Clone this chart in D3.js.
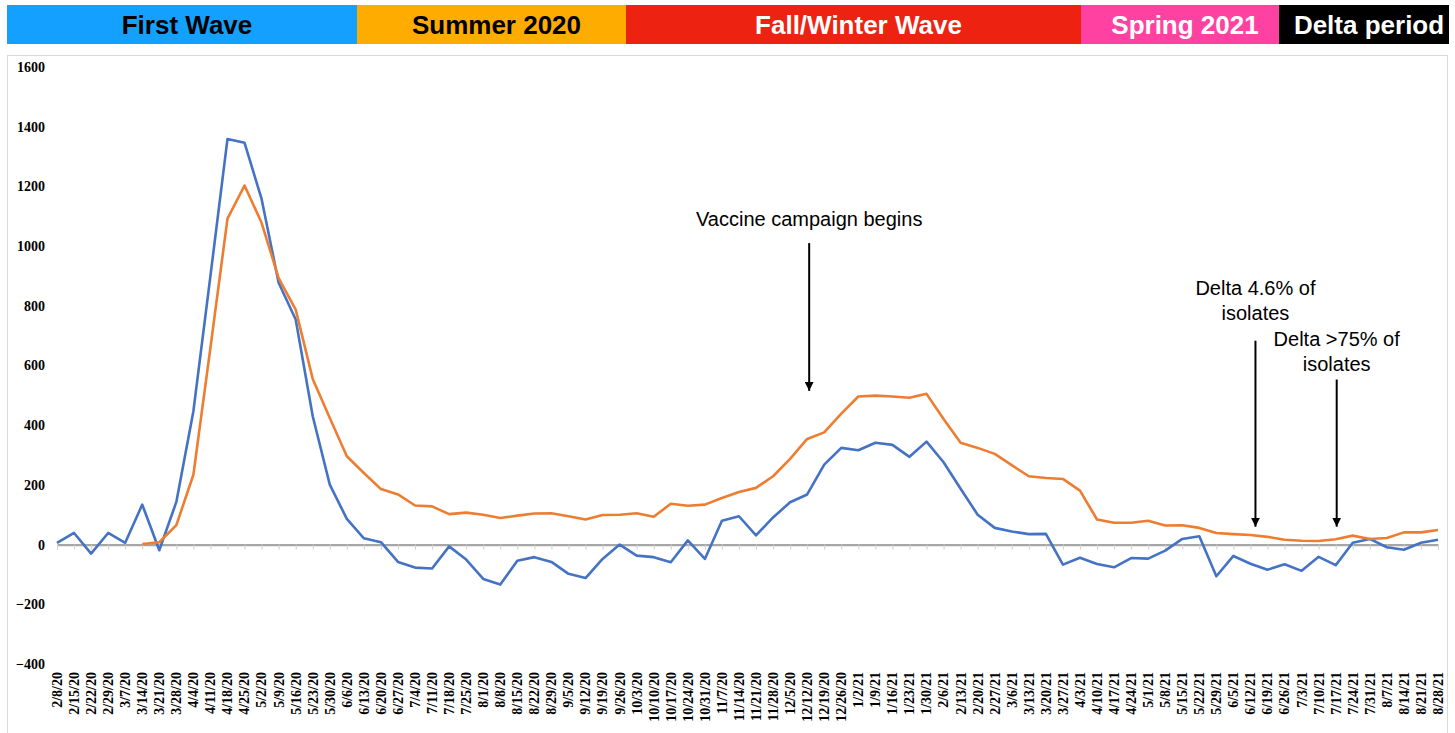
<!DOCTYPE html>
<html>
<head>
<meta charset="utf-8">
<script src="https://cdn.jsdelivr.net/npm/d3@7"></script>
<style>
  body { margin: 0; background: #fff; }
  svg { display: block; }
</style>
</head>
<body>
<svg id="chart" width="1455" height="733"></svg>
<script>
// weekly categories
const weeks = [
  '2/8/20','2/15/20','2/22/20','2/29/20','3/7/20','3/14/20','3/21/20','3/28/20','4/4/20','4/11/20',
  '4/18/20','4/25/20','5/2/20','5/9/20','5/16/20','5/23/20','5/30/20','6/6/20','6/13/20','6/20/20',
  '6/27/20','7/4/20','7/11/20','7/18/20','7/25/20','8/1/20','8/8/20','8/15/20','8/22/20','8/29/20',
  '9/5/20','9/12/20','9/19/20','9/26/20','10/3/20','10/10/20','10/17/20','10/24/20','10/31/20','11/7/20',
  '11/14/20','11/21/20','11/28/20','12/5/20','12/12/20','12/19/20','12/26/20','1/2/21','1/9/21','1/16/21',
  '1/23/21','1/30/21','2/6/21','2/13/21','2/20/21','2/27/21','3/6/21','3/13/21','3/20/21','3/27/21',
  '4/3/21','4/10/21','4/17/21','4/24/21','5/1/21','5/8/21','5/15/21','5/22/21','5/29/21','6/5/21',
  '6/12/21','6/19/21','6/26/21','7/3/21','7/10/21','7/17/21','7/24/21','7/31/21','8/7/21','8/14/21',
  '8/21/21','8/28/21'
]

const blueValues = [
  6, 39, -30, 39, 6, 134, -19, 143, 447, 900,
  1359, 1346, 1158, 877, 754, 430, 201, 86, 21, 8,
  -58, -77, -80, -6, -50, -115, -134, -54, -42, -58,
  -98, -112, -48, 0, -37, -42, -59, 14, -48, 80,
  95, 31, 91, 142, 168, 268, 324, 316, 341, 334,
  294, 345, 276, 187, 100, 56, 44, 35, 36, -67,
  -44, -65, -76, -45, -47, -20, 19, 28, -106, -38,
  -64, -84, -66, -88, -41, -69, 6, 19, -9, -17,
  6, 16
]

const orangeValues = [
  null, null, null, null, null, 2, 8, 65, 234, 660,
  1092, 1203, 1078, 893, 787, 555, 424, 296, 240, 186,
  168, 131, 128, 102, 107, 100, 89, 97, 104, 105,
  95, 84, 99, 100, 105, 93, 137, 130, 134, 156,
  176, 190, 229, 287, 354, 376, 439, 496, 499, 496,
  492, 505, 421, 341, 324, 304, 266, 229, 223, 220,
  181, 84, 73, 73, 80, 64, 65, 56, 39, 35,
  32, 26, 16, 13, 12, 18, 30, 19, 22, 41,
  41, 49
]

const yTicks = [-400, -200, 0, 200, 400, 600, 800, 1000, 1200, 1400, 1600]

const bandLabels = ['First Wave', 'Summer 2020', 'Fall/Winter Wave', 'Spring 2021', 'Delta period']

const noteLines = [['Vaccine campaign begins'], ['Delta 4.6% of', 'isolates'], ['Delta >75% of', 'isolates']]
const noteWeeks = ['12/12/20', '6/12/21', '7/17/21']

// layout
const bandEdges = [7, 357, 626, 1081, 1279, 1449]
const bandFill = ['#13a0fe', '#ffac00', '#ee2210', '#ff42a1', '#000000']
const bandInk = ['#000', '#000', '#fff', '#fff', '#fff']
// arrow top/tip and first text line, in value units
const noteLayout = [
  { top: 1010, tip: 515, text: 1090, dx: 2 },
  { top: 683, tip: 60, text: 860, dx: 5 },
  { top: 553, tip: 60, text: 690, dx: 1 }
]

const svg = d3.select('#chart')
const serif = '"Liberation Serif", "DejaVu Serif", serif'
const sans = '"Liberation Sans", Arial, Helvetica, sans-serif'

const x = d3.scalePoint().domain(weeks).range([57, 1438])
const y = d3.scaleLinear().domain([-400, 1600]).range([664, 67])

svg.append('rect')
  .attr('width', 1455).attr('height', 733).attr('fill', '#fff')

// chart frame
svg.append('rect')
  .attr('x', 7.5).attr('y', 55.5)
  .attr('width', 1440).attr('height', 700)
  .attr('fill', 'none').attr('stroke', '#d9d9d9')

// period bands
const bands = svg.append('g')
bandLabels.forEach((label, i) => {
  bands.append('rect')
    .attr('x', bandEdges[i]).attr('y', 5)
    .attr('width', bandEdges[i + 1] - bandEdges[i]).attr('height', 39)
    .attr('fill', bandFill[i])
  bands.append('text')
    .attr('x', (bandEdges[i] + bandEdges[i + 1]) / 2 + 5)
    .attr('y', 25)
    .attr('dy', '0.35em')
    .attr('text-anchor', 'middle')
    .style('font-family', sans)
    .style('font-weight', 'bold')
    .style('font-size', '26px')
    .attr('fill', bandInk[i])
    .text(label)
})

// y axis labels
const yAxis = svg.append('g')
  .attr('transform', 'translate(45,0)')
  .call(d3.axisLeft(y).tickValues(yTicks).tickFormat(d3.format('d')).tickSize(0).tickPadding(0))
yAxis.select('.domain').remove()
yAxis.selectAll('text')
  .style('font-family', serif)
  .style('font-weight', 'bold')
  .style('font-size', '14px')
  .attr('fill', '#000')

// category axis along zero
const xAxis = svg.append('g')
  .attr('transform', 'translate(0,' + y(0) + ')')
  .call(d3.axisBottom(x).tickSize(5).tickSizeOuter(0).tickFormat(''))
xAxis.selectAll('.tick line').attr('stroke', '#d0d0d0')
xAxis.select('.domain').attr('stroke', '#a6a6a6').attr('stroke-width', 2.2)

svg.append('g').selectAll('text')
  .data(weeks)
  .enter().append('text')
  .attr('transform', d => 'translate(' + x(d) + ',672) rotate(-90)')
  .attr('dy', '0.35em')
  .attr('text-anchor', 'end')
  .style('font-family', serif)
  .style('font-weight', 'bold')
  .style('font-size', '14px')
  .text(d => d)

// series
const line = d3.line()
  .defined(d => d != null)
  .x((d, i) => x(weeks[i]))
  .y(d => y(d))

svg.append('path')
  .datum(blueValues)
  .attr('d', line)
  .attr('fill', 'none')
  .attr('stroke', '#4472c4')
  .attr('stroke-width', 2.6)
  .attr('stroke-linejoin', 'round')

svg.append('path')
  .datum(orangeValues)
  .attr('d', line)
  .attr('fill', 'none')
  .attr('stroke', '#ed7d31')
  .attr('stroke-width', 2.6)
  .attr('stroke-linejoin', 'round')

// annotations
svg.append('defs').append('marker')
  .attr('id', 'head')
  .attr('viewBox', '0 0 10 10')
  .attr('refX', 10).attr('refY', 5)
  .attr('markerWidth', 4.5).attr('markerHeight', 4.5)
  .attr('markerUnits', 'strokeWidth')
  .attr('orient', 'auto')
  .append('path').attr('d', 'M0,0L10,5L0,10Z').attr('fill', '#000')

noteLines.forEach((lines, i) => {
  const lay = noteLayout[i]
  const cx = x(noteWeeks[i]) + lay.dx
  svg.append('line')
    .attr('x1', cx).attr('x2', cx)
    .attr('y1', y(lay.top)).attr('y2', y(lay.tip))
    .attr('stroke', '#000').attr('stroke-width', 2)
    .attr('marker-end', 'url(#head)')
  lines.forEach((t, j) => {
    svg.append('text')
      .attr('x', cx)
      .attr('y', y(lay.text) + j * 25)
      .attr('dy', '0.35em')
      .attr('text-anchor', 'middle')
      .style('font-family', sans)
      .style('font-size', '20px')
      .attr('fill', '#000')
      .text(t)
  })
})
</script>
</body>
</html>
